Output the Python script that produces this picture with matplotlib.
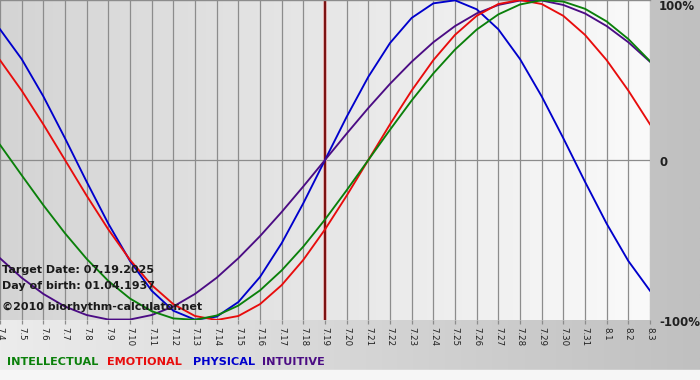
import matplotlib
matplotlib.use("Agg")
import matplotlib.pyplot as plt
import numpy as np

# ---- data (in fractions of 100%) ----
day_labels = ['7.4', '7.5', '7.6', '7.7', '7.8', '7.9', '7.10', '7.11', '7.12', '7.13',
              '7.14', '7.15', '7.16', '7.17', '7.18', '7.19', '7.20', '7.21', '7.22', '7.23',
              '7.24', '7.25', '7.26', '7.27', '7.28', '7.29', '7.30', '7.31', '8.1', '8.2', '8.3']
target_label = '7.19'

physical = [0.817, 0.631, 0.398, 0.136, -0.136, -0.398, -0.631, -0.817, -0.942, -0.998,
            -0.979, -0.888, -0.731, -0.520, -0.270, 0.0, 0.270, 0.520, 0.731, 0.888,
            0.979, 0.998, 0.942, 0.817, 0.631, 0.398, 0.136, -0.136, -0.398, -0.631, -0.817]
emotional = [0.624, 0.434, 0.223, 0.0, -0.223, -0.434, -0.624, -0.782, -0.901, -0.975,
             -1.0, -0.975, -0.901, -0.782, -0.624, -0.434, -0.223, 0.0, 0.223, 0.434,
             0.624, 0.782, 0.901, 0.975, 1.0, 0.975, 0.901, 0.782, 0.624, 0.434, 0.223]
intellectual = [0.095, -0.095, -0.282, -0.458, -0.618, -0.756, -0.866, -0.945, -0.990, -0.999,
                -0.972, -0.910, -0.815, -0.690, -0.541, -0.372, -0.189, 0.0, 0.189, 0.372,
                0.541, 0.690, 0.815, 0.910, 0.972, 0.999, 0.990, 0.945, 0.866, 0.756, 0.618]
intuitive = [-0.614, -0.736, -0.837, -0.916, -0.969, -0.997, -0.997, -0.969, -0.916, -0.837,
             -0.736, -0.614, -0.476, -0.325, -0.165, 0.0, 0.165, 0.325, 0.476, 0.614,
             0.736, 0.837, 0.916, 0.969, 0.997, 0.997, 0.969, 0.916, 0.837, 0.736, 0.614]

series_names = ['INTELLECTUAL', 'EMOTIONAL', 'PHYSICAL', 'INTUITIVE']
series_colors = ['#0a800a', '#e80c0c', '#0000cc', '#4b0c84']

W, H = 700, 380
fig = plt.figure(figsize=(W / 100, H / 100), dpi=100)

# figure background gradient
bg = fig.add_axes([0, 0, 1, 1], zorder=-10)
bg.set_axis_off()
grad = np.linspace(0, 1, 256)[None, :]
bg.imshow(grad, aspect='auto', extent=[0, 1, 10 / H, 1],
          cmap=matplotlib.colors.LinearSegmentedColormap.from_list('bgc', ['#ececec', '#c0c0c0']))
bg.axhspan(0, 10 / H, color='#f6f6f6')
bg.set_xlim(0, 1)
bg.set_ylim(0, 1)

x = np.arange(len(day_labels))
ax = fig.add_axes([0, 60 / H, 650 / W, 320 / H])
ax.set_xlim(0, len(day_labels) - 1)
ax.set_ylim(-1, 1)
ax.imshow(grad, aspect='auto', extent=[0, len(day_labels) - 1, -1, 1], zorder=0,
          cmap=matplotlib.colors.LinearSegmentedColormap.from_list('pc', ['#d4d4d4', '#fafafa']))

for s in ['left', 'right', 'bottom']:
    ax.spines[s].set_visible(False)
ax.spines['top'].set_color('#8c8c8c')
ax.spines['top'].set_linewidth(1.0)

for xi in x:
    ax.axvline(xi, color='#8c8c8c', lw=0.9, zorder=1)
ax.axhline(0, color='#8c8c8c', lw=0.9, zorder=1)

ti = day_labels.index(target_label)
ax.axvline(ti, color='#e0a0a0', lw=2.6, zorder=2)
ax.axvline(ti, color='#7a1010', lw=1.4, zorder=2)

ax.plot(x, physical, color=series_colors[2], lw=1.35, zorder=3)
ax.plot(x, intuitive, color=series_colors[3], lw=1.35, zorder=3)
ax.plot(x, emotional, color=series_colors[1], lw=1.35, zorder=3)
ax.plot(x, intellectual, color=series_colors[0], lw=1.35, zorder=3)

ax.set_xticks(x)
ax.set_xticklabels(day_labels, rotation=270, fontsize=6.2, color='#202020',
                   family='DejaVu Sans')
ax.tick_params(axis='x', direction='out', length=3, width=0.9, color='#8c8c8c', pad=2)
ax.set_yticks([])

def ftext(px, py, s, **kw):
    fig.text(px / W, 1 - py / H, s, **kw)

# right-hand percent labels
ftext(659, 7, '100%', fontsize=8.5, fontweight='bold', va='center', ha='left', color='#202020')
ftext(659, 162, '0', fontsize=8.5, fontweight='bold', va='center', ha='left', color='#202020')
ftext(659, 322, '-100%', fontsize=8.5, fontweight='bold', va='center', ha='left', color='#202020')

# info texts
ftext(2, 270, 'Target Date: 07.19.2025', fontsize=8, fontweight='bold', va='center',
      color='#1a1a1a', zorder=10)
ftext(2, 286, 'Day of birth: 01.04.1937', fontsize=8, fontweight='bold', va='center',
      color='#1a1a1a', zorder=10)
ftext(2, 307, '\u00a92010 biorhythm-calculator.net', fontsize=8, fontweight='bold',
      va='center', color='#1a1a1a', zorder=10)

# legend texts
ly = 362
xs = [7, 107, 193, 262]
for name, col, px in zip(series_names, series_colors, xs):
    ftext(px, ly, name, fontsize=8.1, fontweight='bold', va='center', ha='left', color=col)

fig.savefig('out.png', dpi=100)
